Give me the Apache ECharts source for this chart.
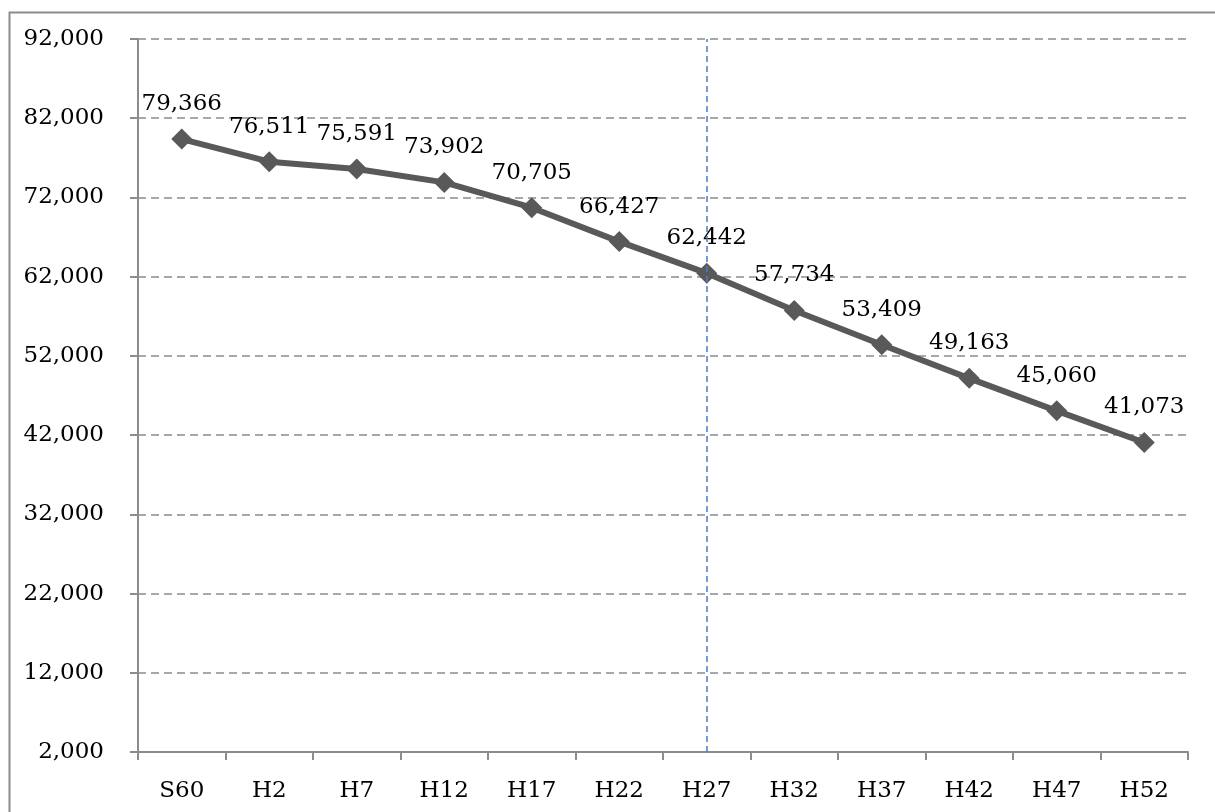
<!DOCTYPE html>
<html>
<head>
<meta charset="utf-8">
<script src="https://cdn.jsdelivr.net/npm/echarts@6/dist/echarts.min.js"></script>
<style>
  html, body { margin: 0; padding: 0; background: #fff; }
  #chart { width: 1215px; height: 812px; }
</style>
</head>
<body>
<div id="chart"></div>
<script>
const categories = ['S60', 'H2', 'H7', 'H12', 'H17', 'H22', 'H27', 'H32', 'H37', 'H42', 'H47', 'H52']
const population = [79366, 76511, 75591, 73902, 70705, 66427, 62442, 57734, 53409, 49163, 45060, 41073]
const yMin = 2000
const yMax = 92000
const yStep = 10000
const baseYear = 'H27' // 基準年の縦線

const fontFamily = 'DejaVu Serif'
const fmt = v => v.toLocaleString('en-US')

const chart = echarts.init(document.getElementById('chart'))
chart.setOption({
  animation: false,
  // 外枠
  graphic: [{
    type: 'rect',
    left: 7,
    top: 10,
    shape: { width: 1400, height: 1000 },
    style: { fill: 'none', stroke: '#8c8c8c', lineWidth: 2 },
    silent: true
  }],
  grid: {
    left: 138,
    right: 27,
    top: 39,
    bottom: 60
  },
  xAxis: {
    type: 'category',
    data: categories,
    boundaryGap: true,
    axisLine: { lineStyle: { color: '#8c8c8c', width: 2 } },
    axisTick: { show: true, length: 8, lineStyle: { color: '#8c8c8c', width: 2 } },
    axisLabel: {
      color: '#000',
      fontFamily: fontFamily,
      fontSize: 23,
      margin: 28
    },
    splitLine: { show: false }
  },
  yAxis: {
    type: 'value',
    min: yMin,
    max: yMax,
    interval: yStep,
    axisLine: { show: true, lineStyle: { color: '#8c8c8c', width: 2 } },
    axisTick: { show: true, length: 8, lineStyle: { color: '#8c8c8c', width: 2 } },
    axisLabel: {
      color: '#000',
      fontFamily: fontFamily,
      fontSize: 23,
      margin: 34,
      formatter: v => fmt(v)
    },
    splitLine: {
      lineStyle: { color: '#8c8c8c', type: [8, 5], width: 1.5 }
    }
  },
  series: [{
    type: 'line',
    data: population,
    symbol: 'diamond',
    symbolSize: 21,
    lineStyle: { color: '#595959', width: 6 },
    itemStyle: { color: '#595959' },
    label: {
      show: true,
      position: 'top',
      distance: 13,
      color: '#000',
      fontFamily: fontFamily,
      fontSize: 23,
      formatter: p => fmt(p.value)
    },
    markLine: {
      silent: true,
      symbol: 'none',
      label: { show: false },
      lineStyle: { color: '#4a7ebb', type: [6, 4], width: 1.5 },
      data: [{ xAxis: baseYear }]
    }
  }]
})
</script>
</body>
</html>
